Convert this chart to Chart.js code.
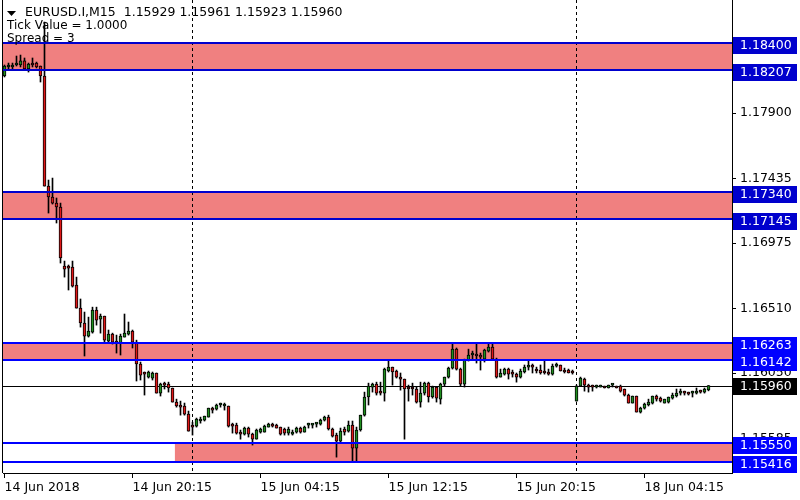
<!DOCTYPE html>
<html lang="en">
<head>
  <meta charset="UTF-8">
  <title>EURUSD.I,M15</title>
  <script src="https://cdn.jsdelivr.net/npm/chart.js"></script>
  <style>
    body { margin: 0; background: #fff; }
    canvas { display: block; }
  </style>
</head>
<body>
  <canvas id="grafico" width="800" height="500"></canvas>

  <script>
    // barre M15 dal 14 Jun 12:15 (indice 0) al 18 Jun 04:15 + 4 barre
    const open = [
      1.18165,1.18229,1.18229,1.18243,1.18243,1.18272,1.18215,1.18257,1.18257,1.18236,
      1.18165,1.17381,1.17303,1.17260,1.17232,1.16811,1.16804,1.16804,1.16676,1.16512,
      1.16406,1.16313,1.16341,1.16498,1.16434,1.16455,1.16277,1.16327,1.16277,1.16263,
      1.16306,1.16327,1.16349,1.16270,1.16114,1.16057,1.16021,1.16014,1.16050,1.15907,
      1.15971,1.15971,1.15943,1.15843,1.15815,1.15815,1.15757,1.15672,1.15672,1.15708,
      1.15715,1.15736,1.15800,1.15793,1.15822,1.15815,1.15815,1.15679,1.15679,1.15622,
      1.15615,1.15658,1.15615,1.15579,1.15629,1.15629,1.15665,1.15686,1.15679,1.15665,
      1.15651,1.15622,1.15615,1.15629,1.15658,1.15629,1.15679,1.15679,1.15686,1.15686,
      1.15715,1.15736,1.15651,1.15608,1.15565,1.15651,1.15636,1.15679,1.15515,1.15644,
      1.15750,1.15879,1.15950,1.15971,1.15914,1.15907,1.16064,1.16092,1.16064,1.16021,
      1.16007,1.15950,1.15950,1.15936,1.15843,1.15907,1.15978,1.15879,1.15950,1.15864,
      1.15971,1.16021,1.16085,1.16220,1.16078,1.15971,1.16142,1.16178,1.16185,1.16171,
      1.16149,1.16206,1.16235,1.16149,1.16021,1.16042,1.16078,1.16050,1.16042,1.16021,
      1.16057,1.16092,1.16107,1.16071,1.16071,1.16057,1.16057,1.16042,1.16099,1.16107,
      1.16064,1.16071,1.16057,1.15850,1.15957,1.16007,1.15957,1.15957,1.15950,1.15950,
      1.15957,1.15943,1.15964,1.15957,1.15957,1.15936,1.15893,1.15836,1.15886,1.15772,
      1.15800,1.15822,1.15836,1.15886,1.15871,1.15836,1.15843,1.15871,1.15886,1.15907,
      1.15914,1.15907,1.15907,1.15907,1.15921,1.15914,1.15929
    ];
    const high = [
      1.18243,1.18257,1.18257,1.18307,1.18314,1.18293,1.18257,1.18293,1.18264,1.18236,
      1.18549,1.17424,1.17438,1.17296,1.17260,1.16847,1.16819,1.16847,1.16733,1.16577,
      1.16484,1.16448,1.16519,1.16519,1.16470,1.16455,1.16356,1.16334,1.16320,1.16327,
      1.16470,1.16413,1.16356,1.16284,1.16128,1.16057,1.16064,1.16057,1.16050,1.15978,
      1.15985,1.15985,1.15943,1.15864,1.15850,1.15836,1.15779,1.15700,1.15729,1.15736,
      1.15743,1.15800,1.15807,1.15829,1.15836,1.15836,1.15815,1.15693,1.15693,1.15644,
      1.15665,1.15665,1.15622,1.15651,1.15658,1.15679,1.15693,1.15693,1.15686,1.15665,
      1.15658,1.15665,1.15644,1.15665,1.15665,1.15672,1.15693,1.15686,1.15693,1.15722,
      1.15743,1.15750,1.15658,1.15622,1.15658,1.15665,1.15708,1.15708,1.15665,1.15750,
      1.15914,1.15978,1.15978,1.15985,1.15985,1.16085,1.16142,1.16092,1.16071,1.16050,
      1.16007,1.15964,1.15978,1.15950,1.15985,1.15985,1.15985,1.15957,1.15950,1.15978,
      1.16021,1.16092,1.16256,1.16228,1.16085,1.16149,1.16220,1.16206,1.16263,1.16192,
      1.16220,1.16256,1.16256,1.16156,1.16078,1.16085,1.16085,1.16071,1.16050,1.16078,
      1.16107,1.16142,1.16114,1.16092,1.16107,1.16135,1.16078,1.16114,1.16121,1.16107,
      1.16085,1.16078,1.16071,1.15964,1.16021,1.16014,1.15971,1.15964,1.15964,1.15964,
      1.15957,1.15964,1.15971,1.15957,1.15964,1.15936,1.15900,1.15886,1.15886,1.15807,
      1.15836,1.15864,1.15886,1.15893,1.15879,1.15864,1.15879,1.15907,1.15936,1.15936,
      1.15921,1.15914,1.15921,1.15943,1.15928,1.15943,1.15961
    ];
    const low = [
      1.18158,1.18208,1.18208,1.18236,1.18229,1.18215,1.18193,1.18229,1.18222,1.18122,
      1.17381,1.17189,1.17253,1.17118,1.16833,1.16733,1.16641,1.16662,1.16512,1.16377,
      1.16171,1.16306,1.16334,1.16391,1.16334,1.16263,1.16270,1.16256,1.16192,1.16178,
      1.16306,1.16320,1.16228,1.15993,1.16000,1.15893,1.16014,1.16000,1.15907,1.15886,
      1.15936,1.15914,1.15843,1.15807,1.15750,1.15750,1.15636,1.15608,1.15665,1.15693,
      1.15708,1.15736,1.15765,1.15786,1.15807,1.15786,1.15665,1.15622,1.15615,1.15579,
      1.15608,1.15594,1.15537,1.15579,1.15622,1.15629,1.15665,1.15665,1.15658,1.15608,
      1.15608,1.15608,1.15608,1.15622,1.15622,1.15629,1.15658,1.15658,1.15665,1.15679,
      1.15708,1.15644,1.15594,1.15451,1.15558,1.15608,1.15629,1.15423,1.15423,1.15636,
      1.15743,1.15822,1.15914,1.15893,1.15893,1.15850,1.16057,1.15964,1.16014,1.15928,
      1.15579,1.15850,1.15893,1.15836,1.15807,1.15893,1.15843,1.15871,1.15843,1.15829,
      1.15957,1.16014,1.16078,1.16071,1.15957,1.15950,1.16135,1.16142,1.16121,1.16071,
      1.16128,1.16199,1.16142,1.16014,1.16021,1.16035,1.16007,1.16021,1.15985,1.16014,
      1.16050,1.16071,1.16050,1.16050,1.16042,1.16042,1.16035,1.16035,1.16092,1.16064,
      1.16050,1.16050,1.16042,1.15850,1.15957,1.15921,1.15914,1.15921,1.15943,1.15950,
      1.15943,1.15943,1.15950,1.15943,1.15914,1.15886,1.15836,1.15836,1.15772,1.15765,
      1.15793,1.15815,1.15829,1.15850,1.15843,1.15836,1.15836,1.15864,1.15879,1.15893,
      1.15893,1.15893,1.15879,1.15900,1.15907,1.15907,1.15923
    ];
    const close = [
      1.18236,1.18236,1.18243,1.18250,1.18272,1.18215,1.18250,1.18243,1.18229,1.18165,
      1.17381,1.17303,1.17260,1.17232,1.16869,1.16790,1.16797,1.16669,1.16512,1.16406,
      1.16313,1.16349,1.16498,1.16427,1.16455,1.16284,1.16327,1.16270,1.16263,1.16313,
      1.16334,1.16349,1.16270,1.16114,1.16035,1.16042,1.16057,1.16050,1.15907,1.15971,
      1.15964,1.15943,1.15843,1.15815,1.15807,1.15757,1.15636,1.15665,1.15722,1.15722,
      1.15743,1.15800,1.15786,1.15822,1.15829,1.15829,1.15672,1.15672,1.15622,1.15615,
      1.15658,1.15615,1.15579,1.15644,1.15651,1.15672,1.15686,1.15672,1.15658,1.15615,
      1.15622,1.15651,1.15629,1.15658,1.15629,1.15665,1.15693,1.15686,1.15693,1.15715,
      1.15736,1.15651,1.15601,1.15565,1.15636,1.15629,1.15679,1.15515,1.15644,1.15750,
      1.15879,1.15957,1.15971,1.15907,1.15907,1.16078,1.16092,1.16057,1.16021,1.16007,
      1.15936,1.15936,1.15936,1.15843,1.15907,1.15978,1.15879,1.15950,1.15871,1.15971,
      1.16021,1.16085,1.16220,1.16078,1.15971,1.16142,1.16178,1.16185,1.16171,1.16163,
      1.16213,1.16235,1.16149,1.16021,1.16050,1.16078,1.16042,1.16042,1.16021,1.16064,
      1.16092,1.16107,1.16092,1.16064,1.16050,1.16050,1.16042,1.16099,1.16107,1.16064,
      1.16057,1.16050,1.16050,1.15957,1.16014,1.15964,1.15950,1.15950,1.15957,1.15964,
      1.15943,1.15964,1.15971,1.15943,1.15921,1.15893,1.15836,1.15886,1.15772,1.15800,
      1.15829,1.15843,1.15886,1.15864,1.15850,1.15864,1.15879,1.15893,1.15907,1.15921,
      1.15907,1.15900,1.15914,1.15921,1.15914,1.15936,1.15960
    ];

    const xTicks = [0, 32, 64, 96, 128, 160];
    const xLabels = ['14 Jun 2018', '14 Jun 20:15', '15 Jun 04:15', '15 Jun 12:15', '15 Jun 20:15', '18 Jun 04:15'];
    const separatori = [47, 143]; // cambio giorno
    const yTicks = [1.18365, 1.17900, 1.17435, 1.16975, 1.16510, 1.16050, 1.15585];
    const zoneTop = [1.18400, 1.17340, 1.16263, 1.15550];
    const zoneBottom = [1.18207, 1.17145, 1.16142, 1.15416];
    const zoneStart = [-5, -5, -5, 42.6];
    const zoneColori = ['#0000cd', '#0000cd', '#0000ff', '#0000ff'];
    const ultimoPrezzo = 1.15960;
    const intestazione = ['EURUSD.I,M15  1.15929 1.15961 1.15923 1.15960', 'Tick Value = 1.0000', 'Spread = 3'];

    const FONT = '12.5px "DejaVu Sans"';
    const FONT_INFO = '12px "DejaVu Sans"';
    const idx = open.map((_, i) => i);
    const corpoColori = idx.map(i => close[i] >= open[i] ? '#1f8f1f' : '#e01818');

    function etichetta(ctx, a, py, testo, fondo, su) {
      const top = Math.round(py) - su;
      ctx.fillStyle = fondo;
      ctx.fillRect(a.right + 1, top, 64, 17);
      ctx.fillStyle = '#fff';
      ctx.fillText(testo, a.right + 8, top + 9);
    }

    const disegni = {
      id: 'disegni',
      beforeDatasetsDraw(chart) {
        const { ctx, chartArea: a, scales: { x, y } } = chart;
        ctx.save();
        ctx.beginPath();
        ctx.rect(a.left, a.top, a.right - a.left, a.bottom - a.top);
        ctx.clip();
        ctx.fillStyle = '#f08080';
        zoneTop.forEach((t, k) => {
          const x0 = Math.max(x.getPixelForValue(zoneStart[k]), a.left);
          const y0 = Math.round(y.getPixelForValue(t));
          const y1 = Math.round(y.getPixelForValue(zoneBottom[k]));
          ctx.fillRect(x0, y0, a.right - x0, y1 - y0);
        });
        ctx.strokeStyle = '#000';
        ctx.lineWidth = 1;
        ctx.setLineDash([3, 3]);
        separatori.forEach(i => {
          const px = x.getPixelForValue(i);
          ctx.beginPath(); ctx.moveTo(px, a.top); ctx.lineTo(px, a.bottom); ctx.stroke();
        });
        ctx.setLineDash([]);
        const py = Math.round(y.getPixelForValue(ultimoPrezzo)) + 0.5;
        ctx.beginPath(); ctx.moveTo(a.left, py); ctx.lineTo(a.right, py); ctx.stroke();
        ctx.restore();
      },
      afterDatasetsDraw(chart) {
        const { ctx, chartArea: a, scales: { y } } = chart;
        ctx.save();
        ctx.lineWidth = 2;
        zoneTop.forEach((t, k) => {
          [t, zoneBottom[k]].forEach(v => {
            const py = Math.round(y.getPixelForValue(v));
            ctx.strokeStyle = zoneColori[k];
            ctx.beginPath(); ctx.moveTo(a.left, py); ctx.lineTo(a.right, py); ctx.stroke();
          });
        });
        ctx.restore();
      },
      afterDraw(chart) {
        const { ctx, chartArea: a, scales: { y } } = chart;
        ctx.save();
        ctx.strokeStyle = '#000';
        ctx.lineWidth = 1;
        ctx.beginPath(); ctx.moveTo(a.left - 0.5, 0); ctx.lineTo(a.left - 0.5, a.bottom); ctx.stroke();

        ctx.font = FONT;
        ctx.textAlign = 'left';
        ctx.textBaseline = 'middle';
        zoneTop.forEach((t, k) => {
          etichetta(ctx, a, y.getPixelForValue(t), t.toFixed(5), zoneColori[k], 6);
          etichetta(ctx, a, y.getPixelForValue(zoneBottom[k]), zoneBottom[k].toFixed(5), zoneColori[k], 6);
        });
        etichetta(ctx, a, y.getPixelForValue(ultimoPrezzo), ultimoPrezzo.toFixed(5), '#000', 8);

        // intestazione in alto a sinistra
        ctx.fillStyle = '#000';
        ctx.beginPath(); ctx.moveTo(7, 11); ctx.lineTo(16, 11); ctx.lineTo(11.5, 16); ctx.closePath(); ctx.fill();
        ctx.fillText(intestazione[0], 25, 13);
        ctx.font = FONT_INFO;
        ctx.fillText(intestazione[1], 7, 26);
        ctx.fillText(intestazione[2], 7, 39);
        ctx.restore();
      }
    };

    const ctx = document.getElementById('grafico').getContext('2d');
    const grafico = new Chart(ctx, {
      type: 'bar',
      data: {
        datasets: [
          {
            label: 'corpo',
            data: idx.map(i => ({ x: i, y: [open[i], close[i]] })),
            backgroundColor: corpoColori,
            borderColor: '#000',
            borderWidth: 1,
            borderSkipped: false,
            barThickness: 3,
            minBarLength: 2,
            grouped: false,
            order: 1
          },
          {
            label: 'ombra',
            data: idx.map(i => ({ x: i, y: [low[i], high[i]] })),
            backgroundColor: '#000',
            barThickness: 1,
            grouped: false,
            order: 2
          }
        ]
      },
      options: {
        responsive: false,
        animation: false,
        layout: { padding: { left: 3, top: 0, right: 0, bottom: 0 } },
        plugins: { legend: { display: false }, tooltip: { enabled: false } },
        scales: {
          x: {
            type: 'linear',
            min: -0.375,
            max: 181.875,
            offset: false,
            afterBuildTicks: s => { s.ticks = xTicks.map(v => ({ value: v })); },
            afterFit: s => { s.height = 27; s.paddingLeft = 0; s.paddingRight = 0; },
            ticks: {
              align: 'start', padding: 2, color: '#000', autoSkip: false, maxRotation: 0,
              font: { family: 'DejaVu Sans', size: 12.5 },
              callback: (v, i) => xLabels[i]
            },
            grid: { drawOnChartArea: false, tickLength: 5, color: '#000', offset: false },
            border: { color: '#000' }
          },
          y: {
            position: 'right',
            min: 1.15338,
            max: 1.18706,
            afterBuildTicks: s => { s.ticks = yTicks.map(v => ({ value: v })); },
            afterFit: s => { s.width = 68; s.paddingTop = 0; s.paddingBottom = 0; },
            ticks: {
              padding: 4, color: '#000',
              font: { family: 'DejaVu Sans', size: 12.5 },
              callback: v => v.toFixed(5)
            },
            grid: { drawOnChartArea: false, tickLength: 4, color: '#000' },
            border: { color: '#000' }
          }
        }
      },
      plugins: [disegni]
    });
  </script>
</body>
</html>
